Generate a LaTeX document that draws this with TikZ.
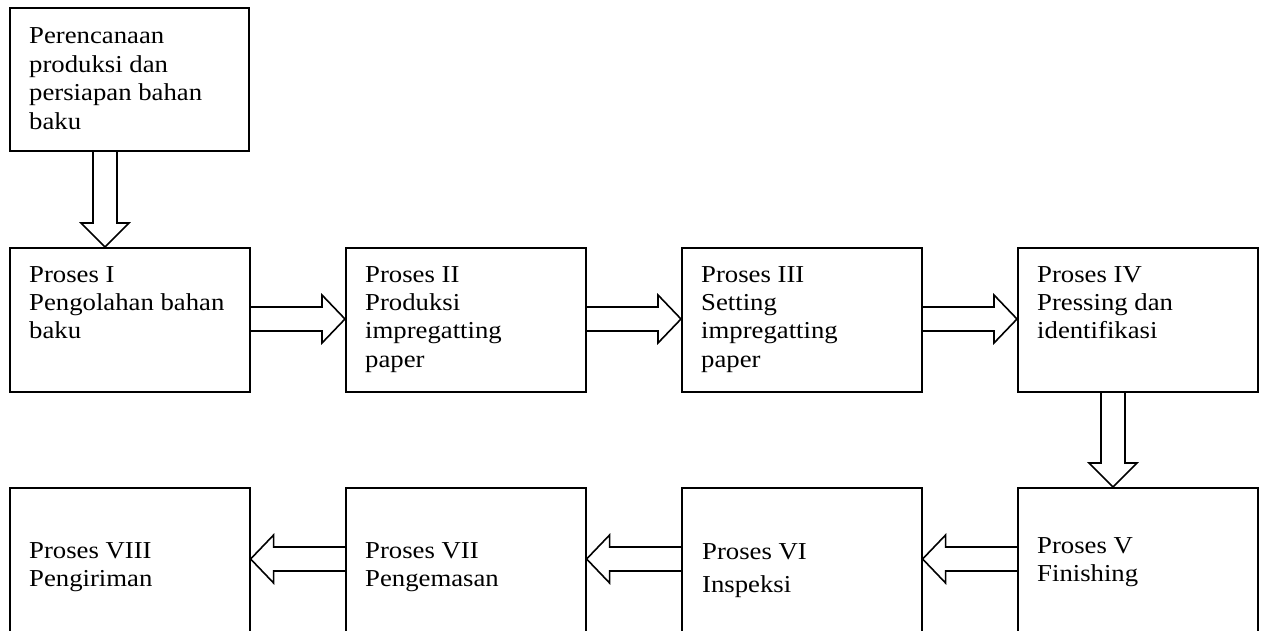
\documentclass[tikz,border=0pt]{standalone}
\usepackage{fontspec}
\setmainfont[FakeStretch=1.1]{Liberation Serif}
\usetikzlibrary{calc}

% left-aligned stack of lines whose baseline is the first line's
\newcommand\txtlines[1]{\begin{tabular}[t]{@{}l@{}}#1\end{tabular}}

% hollow block arrows between boxes (offsets measured from box corners)
\newcommand\rightblock[2]{%
  \draw[blockarrow] ($(#1.north east)+(0,60)$) -- ($(#2.north west)+(-23,60)$)
    -- ($(#2.north west)+(-23,48)$) -- ($(#2.north west)+(0,72)$)
    -- ($(#2.north west)+(-23,96)$) -- ($(#2.north west)+(-23,84)$)
    -- ($(#1.north east)+(0,84)$);}
\newcommand\leftblock[2]{%
  \draw[blockarrow] ($(#1.north west)+(0,60)$) -- ($(#2.north east)+(23,60)$)
    -- ($(#2.north east)+(23,48)$) -- ($(#2.north east)+(0,72)$)
    -- ($(#2.north east)+(23,96)$) -- ($(#2.north east)+(23,84)$)
    -- ($(#1.north west)+(0,84)$);}
\newcommand\downblock[2]{%
  \draw[blockarrow] ($(#1.south west)+(84,0)$) -- ($(#2.north west)+(84,-24)$)
    -- ($(#2.north west)+(72,-24)$) -- ($(#2.north west)+(96,0)$)
    -- ($(#2.north west)+(120,-24)$) -- ($(#2.north west)+(108,-24)$)
    -- ($(#1.south west)+(108,0)$);}

\begin{document}
\begin{tikzpicture}[x=1pt,y=-1pt,
  box/.style={draw, line width=1.6pt, minimum width=240pt, minimum height=144pt,
    inner sep=0pt, anchor=north west},
  txt/.style={anchor=base west, inner sep=0pt, font=\fontsize{24.3}{28.5}\selectfont},
  blockarrow/.style={draw, line width=1.6pt, line join=miter}]
\useasboundingbox (0,0) rectangle (1264,631);

% boxes
\node[box, minimum width=239pt, minimum height=143pt] (b0) at (9,7) {};
\node[box] (b1) at (9,247) {};
\node[box] (b2) at (345,247) {};
\node[box] (b3) at (681,247) {};
\node[box] (b4) at (1017,247) {};
\node[box, minimum height=150pt] (b5) at (1017,487) {};
\node[box, minimum height=150pt] (b6) at (681,487) {};
\node[box, minimum height=150pt] (b7) at (345,487) {};
\node[box, minimum height=150pt] (b8) at (9,487) {};

% labels
\node[txt] (t0) at (29,44) {\txtlines{Perencanaan\\produksi dan\\persiapan bahan\\baku}};
\node[txt] (t1) at (29,282) {\txtlines{Proses I\\Pengolahan bahan\\baku}};
\node[txt] (t2) at (365,282) {\txtlines{Proses II\\Produksi\\impregatting\\paper}};
\node[txt] (t3) at (701,282) {\txtlines{Proses III\\Setting\\impregatting\\paper}};
\node[txt] (t4) at (1037,282) {\txtlines{Proses IV\\Pressing dan\\identifikasi}};
\node[txt] (t5) at (1037,553) {\txtlines{Proses V\\Finishing}};
\node[txt] (t6) at (702,559) {\txtlines{Proses VI\\[5pt]Inspeksi}};
\node[txt] (t7) at (365,558) {\txtlines{Proses VII\\Pengemasan}};
\node[txt] (t8) at (29,558) {\txtlines{Proses VIII\\Pengiriman}};

% flow
\downblock{b0}{b1}
\rightblock{b1}{b2}
\rightblock{b2}{b3}
\rightblock{b3}{b4}
\downblock{b4}{b5}
\leftblock{b5}{b6}
\leftblock{b6}{b7}
\leftblock{b7}{b8}
\end{tikzpicture}
\end{document}
